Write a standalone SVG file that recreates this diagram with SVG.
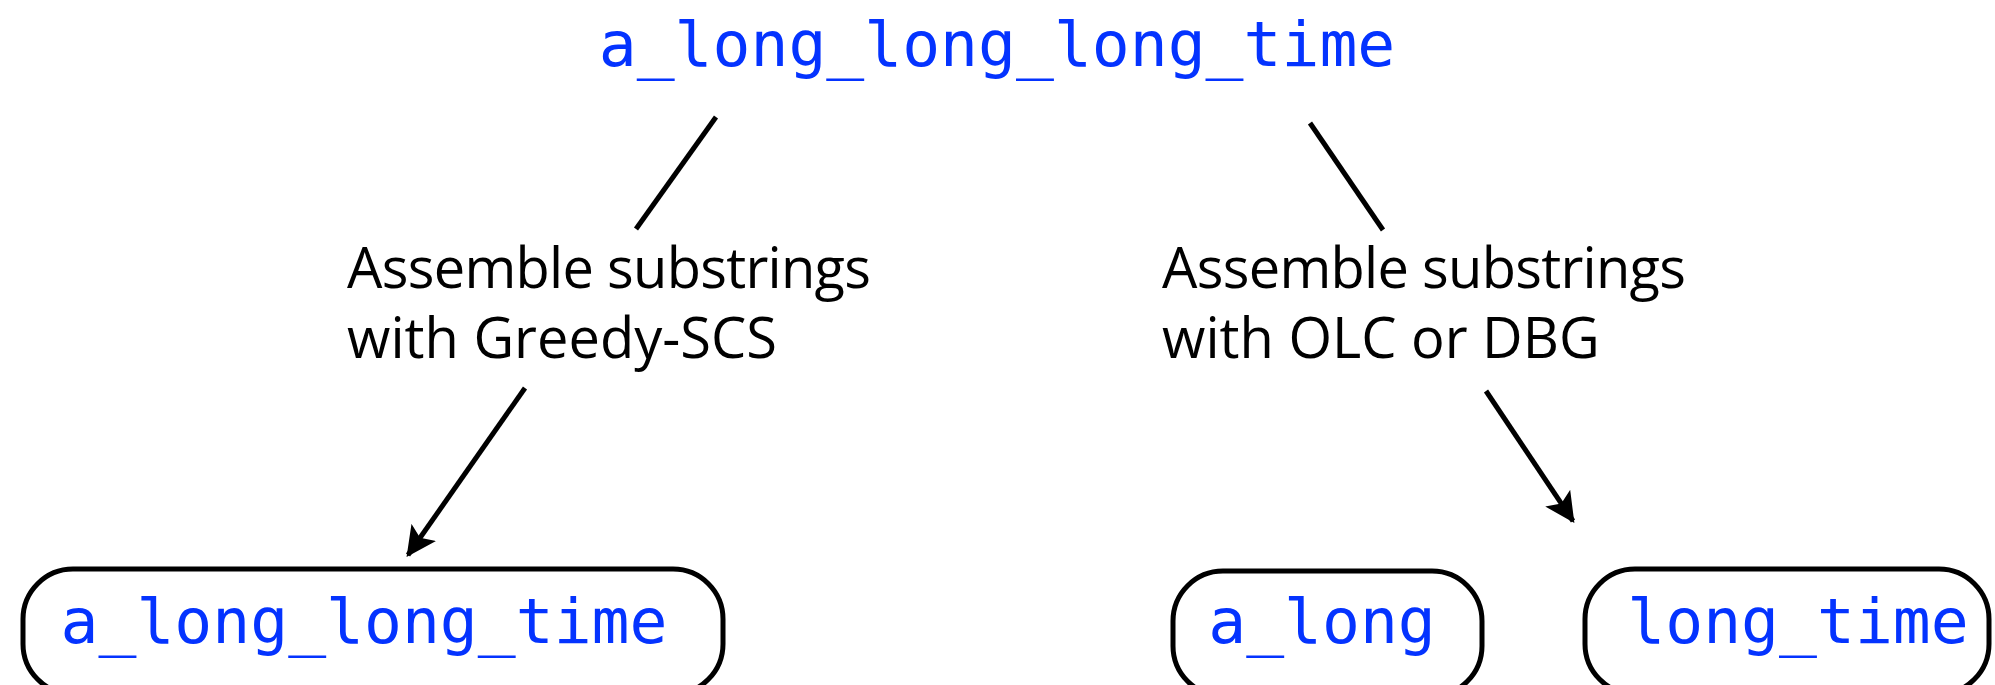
<svg xmlns="http://www.w3.org/2000/svg" width="1995" height="685" viewBox="0 0 1995 685">
<defs>
<style>
.mono{font-family:"DejaVu Sans Mono","Liberation Mono",monospace;font-size:63px;fill:#0433ff;text-anchor:middle}
.lab{font-family:"Open Sans","Noto Sans","Liberation Sans",sans-serif;font-size:56px;fill:#000}
.box{fill:#fff;stroke:#000;stroke-width:5}
.ln{stroke:#000;stroke-width:5;fill:none}
</style>
<marker id="ah" markerWidth="6" markerHeight="6" refX="5.5" refY="3" orient="auto" markerUnits="strokeWidth" viewBox="0 0 6 6">
<path d="M0,0 L6,3 L0,6 L1.3,3 Z" fill="#000"/>
</marker>
</defs>
<rect width="1995" height="685" fill="#fff"/>
<g id="root"><text class="mono" x="997" y="66">a_long_long_long_time</text></g>
<g id="label-left"><text class="lab" x="347" y="288" textLength="524">Assemble substrings</text><text class="lab" x="347" y="358">with Greedy-SCS</text></g>
<g id="label-right"><text class="lab" x="1162" y="288" textLength="524">Assemble substrings</text><text class="lab" x="1162" y="358">with OLC or DBG</text></g>
<g id="node-greedy"><rect class="box" x="23" y="569" width="700" height="125" rx="50"/><text class="mono" x="364" y="643">a_long_long_time</text></g>
<g id="node-along"><rect class="box" x="1173" y="571" width="309" height="125" rx="50"/><text class="mono" x="1322" y="643">a_long</text></g>
<g id="node-longtime"><rect class="box" x="1585" y="569" width="404" height="125" rx="50"/><text class="mono" x="1798" y="643">long_time</text></g>
<g id="connectors">
<line class="ln" x1="716" y1="117" x2="636" y2="229"/>
<line class="ln" x1="1310" y1="123" x2="1383" y2="230"/>
<line class="ln" x1="525" y1="388" x2="408" y2="555" marker-end="url(#ah)"/>
<line class="ln" x1="1486" y1="391" x2="1573" y2="521" marker-end="url(#ah)"/>
</g>
</svg>
